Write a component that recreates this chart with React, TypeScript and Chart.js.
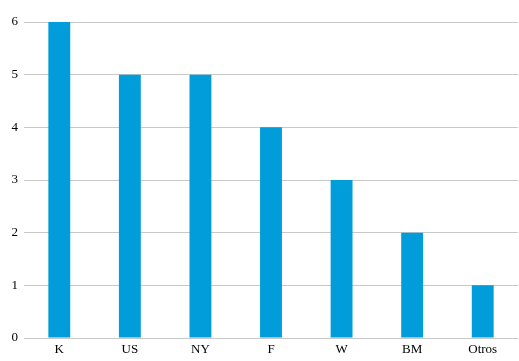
import React, { useEffect, useRef } from "react";
import { Chart, registerables } from "chart.js";
Chart.register(...registerables);

const categories = ["K", "US", "NY", "F", "W", "BM", "Otros"];
const values = [6, 5, 5, 4, 3, 2, 1];
const yTicks = [0, 1, 2, 3, 4, 5, 6];

export default function App() {
  const ref = useRef<HTMLCanvasElement>(null);
  useEffect(() => {
    document.body.style.margin = "0";
    const chart = new Chart(ref.current!, {
      type: "bar",
      data: {
        labels: categories,
        datasets: [
          {
            data: values,
            backgroundColor: "#009DDA",
            borderWidth: 0,
            categoryPercentage: 1,
            barPercentage: 0.31,
          },
        ],
      },
      options: {
        animation: false,
        responsive: false,
        maintainAspectRatio: false,
        layout: { padding: { top: 22, right: 1, left: 0, bottom: 0 } },
        plugins: { legend: { display: false }, tooltip: { enabled: false } },
        scales: {
          x: {
            grid: { display: false, drawTicks: false },
            border: { display: false },
            ticks: {
              color: "#000",
              font: { family: "Liberation Serif", size: 13 },
              padding: 4,
            },
            afterFit: (s: any) => {
              s.height = 23;
            },
          },
          y: {
            min: 0,
            max: 6,
            afterBuildTicks: (s: any) => {
              s.ticks = yTicks.map((v) => ({ value: v }));
            },
            grid: { color: "#C8C8C8", drawTicks: false, lineWidth: 1 },
            border: { display: false },
            ticks: {
              color: "#000",
              font: { family: "Liberation Serif", size: 13 },
              padding: 6,
            },
            afterFit: (s: any) => {
              s.width = 24;
            },
          },
        },
      },
    });
    return () => chart.destroy();
  }, []);
  return (
    <div style={{ width: 519, height: 361 }}>
      <canvas ref={ref} width={519} height={361} />
    </div>
  );
}
